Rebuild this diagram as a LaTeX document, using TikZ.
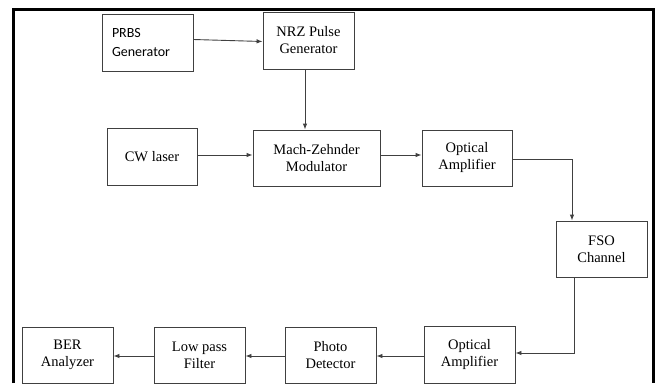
\documentclass[tikz,border=0pt]{standalone}
\usepackage{fontspec}
\setmainfont{Liberation Serif}
\newfontfamily\tnr{Liberation Serif}
\newfontfamily\calib{Carlito}
\usetikzlibrary{arrows.meta}
\begin{document}
\begin{tikzpicture}[x=1pt,y=-1pt,
  blk/.style={draw=black!75,line width=0.9pt,minimum height=57pt,inner sep=2pt,align=center,
    font=\tnr\fontsize{14.5}{17}\selectfont},
  conn/.style={draw=black!75,line width=0.9pt,-{Latex[length=6pt,width=4.5pt]}}]
\useasboundingbox (0,0) rectangle (658,383);
\fill[white] (0,0) rectangle (658,383);
\draw[line width=3pt] (13,383) -- (13,9) -- (653,9) -- (653,383);
\node[blk,minimum width=91pt,text width=71pt,align=left,font=\calib\fontsize{14}{19}\selectfont] (prbs) at (147.5,42.5) {PRBS\\Generator};
\node[blk,minimum width=91pt] (nrz) at (308.5,40.5) {NRZ Pulse\\Generator};
\node[blk,minimum width=90pt] (cw) at (152,156.5) {CW laser};
\node[blk,minimum width=127pt,minimum height=56pt] (mzm) at (316.5,158) {Mach-Zehnder\\Modulator};
\node[blk,minimum width=90pt,minimum height=56pt] (oa1) at (467,158) {Optical\\Amplifier};
\node[blk,minimum width=91pt,minimum height=56pt] (fso) at (601.5,249) {FSO\\Channel};
\node[blk,minimum width=91pt] (oa2) at (469.5,354.5) {Optical\\Amplifier};
\node[blk,minimum width=91pt,minimum height=56pt] (pd) at (330.5,355) {Photo\\Detector};
\node[blk,minimum width=91pt,minimum height=56pt] (lpf) at (199.5,355) {Low pass\\Filter};
\node[blk,minimum width=91pt,minimum height=56pt] (ber) at (67.5,355) {BER\\Analyzer};
\coordinate (c1) at (572,159);
\coordinate (c2) at (574,353);
\draw[conn] (prbs.east |- 0,39.5) -- (nrz.west |- 0,41.5);
\draw[conn] ([xshift=-3.5pt]nrz.south) -- ([xshift=-3.5pt]nrz.south |- mzm.north);
\draw[conn] (cw.east |- 0,155) -- (mzm.west |- 0,155);
\draw[conn] (mzm.east |- 0,155) -- (oa1.west |- 0,155);
\draw[conn] (oa1.east |- c1) -- (c1) -- (c1 |- fso.north);
\draw[conn] (c2 |- fso.south) -- (c2) -- (oa2.east |- c2);
\draw[conn] (oa2.west |- 0,356) -- (pd.east |- 0,356);
\draw[conn] (pd.west |- 0,356) -- (lpf.east |- 0,356);
\draw[conn] (lpf.west |- 0,356) -- (ber.east |- 0,356);
\end{tikzpicture}
\end{document}
